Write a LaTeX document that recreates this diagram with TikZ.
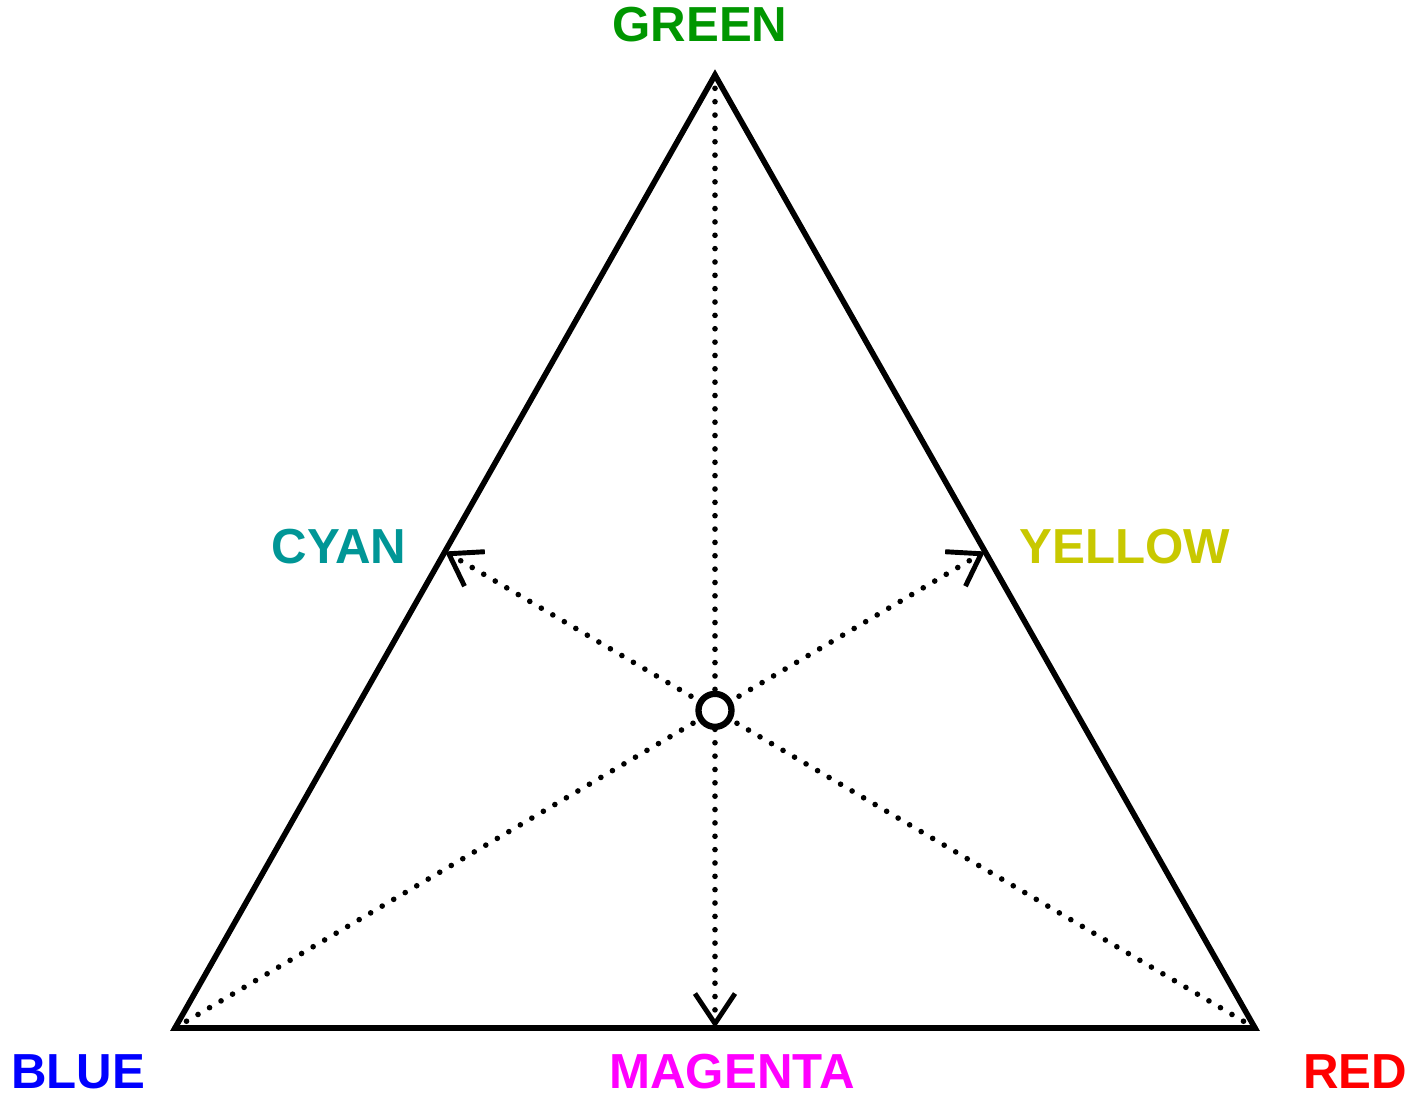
\documentclass[tikz,border=0pt]{standalone}
\usepackage{fontspec}
\setmainfont{Liberation Sans}
\usetikzlibrary{arrows.meta, calc}
\definecolor{cgreen}{RGB}{0,150,0}
\definecolor{ccyan}{RGB}{0,150,150}
\definecolor{cyellow}{RGB}{200,200,0}
\definecolor{cblue}{RGB}{0,0,255}
\definecolor{cmagenta}{RGB}{255,0,255}
\definecolor{cred}{RGB}{255,0,0}

\begin{document}
\begin{tikzpicture}[font=\bfseries\fontsize{14}{16}\selectfont,
    side/.style={line width=1.6pt, line join=miter},
    median/.style={line width=1.6pt, line cap=round, dash pattern=on 0pt off 3.8pt,
        -{Straight Barb[length=0.3cm, width=0.4cm, line width=1.4pt]}},
    hub/.style={draw, circle, fill=white, line width=1.8pt, minimum size=0.33cm, inner sep=0pt}]
    \useasboundingbox (0,0) rectangle (14.13,10.96);
    \coordinate (g) at (7.15,10.21);
    \coordinate (b) at (1.75,0.68);
    \coordinate (r) at (12.55,0.68);
    \coordinate (cy) at ($(g)!0.5!(b)$);
    \coordinate (ye) at ($(g)!0.5!(r)$);
    \coordinate (mg) at ($(b)!0.5!(r)$);
    \draw[side] (g) -- (b) -- (r) -- cycle;
    \draw[median] (g) -- (mg);
    \draw[median] (r) -- (cy);
    \draw[median] (b) -- (ye);
    \node[hub] (w) at ($(mg)!0.3333!(g)$) {};
    % labels
    \node[text=cgreen] (lg) at (7.00,10.71) {GREEN};
    \node[text=ccyan] (lc) at (3.39,5.49) {CYAN};
    \node[text=cyellow] (ly) at (11.25,5.49) {YELLOW};
    \node[text=cblue] (lb) at (0.78,0.24) {BLUE};
    \node[text=cmagenta] (lm) at (7.32,0.24) {MAGENTA};
    \node[text=cred] (lr) at (13.55,0.24) {RED};
\end{tikzpicture}
\end{document}
